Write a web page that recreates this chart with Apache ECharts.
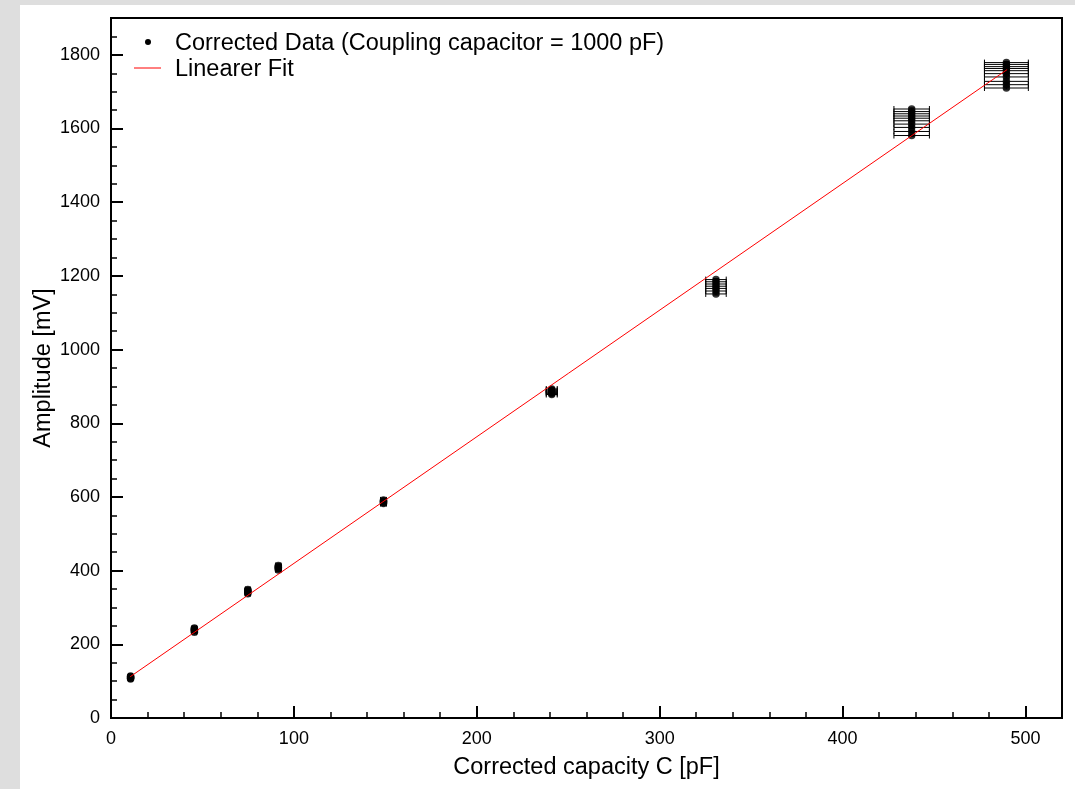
<!DOCTYPE html>
<html><head><meta charset="utf-8">
<script src="https://cdn.jsdelivr.net/npm/echarts@6/dist/echarts.min.js"></script>
<style>
html,body{margin:0;padding:0;background:#dedede;width:1075px;height:789px;overflow:hidden}
#chart{position:absolute;left:20px;top:5px;width:1055px;height:784px;background:#fff}
</style></head><body><div id="chart"></div>
<script>
// Corrected capacity C [pF] per measurement
const capX = [
  10.7,10.7,10.7,10.7,10.7,10.7,
  45.6,45.6,45.6,45.6,45.6,45.6,
  74.8,74.8,74.8,74.8,74.8,74.8,
  91.5,91.5,91.5,91.5,91.5,91.5,
  149,149,149,149,149,149,
  241,241,241,241,241,241,
  330.8,330.8,330.8,330.8,330.8,330.8,330.8,
  437.8,437.8,437.8,437.8,437.8,437.8,437.8,437.8,437.8,437.8,
  489.6,489.6,489.6,489.6,489.6,489.6,489.6,489.6,489.6,489.6
];
// Amplitude [mV]
const ampY = [
  106,108,109,111,112,114,
  233,236,238,240,242,244,
  337,340,342,345,347,349,
  402,405,407,409,411,414,
  582,584,586,588,590,592,
  878,881,884,887,890,893,
  1151,1159,1166,1172,1178,1184,1190,
  1581,1592,1603,1612,1621,1628,1634,1640,1646,1653,
  1710,1719,1728,1740,1749,1757,1763,1768,1774,1779
];
// x errors [pF]
const capErr = [
  1,1,1,1,1,1,
  1.2,1.2,1.2,1.2,1.2,1.2,
  1.3,1.3,1.3,1.3,1.3,1.3,
  1.4,1.4,1.4,1.4,1.4,1.4,
  1.6,1.6,1.6,1.6,1.6,1.6,
  3,3,3,3,3,3,
  5.6,5.6,5.6,5.6,5.6,5.6,5.6,
  9.7,9.7,9.7,9.7,9.7,9.7,9.7,9.7,9.7,9.7,
  12,12,12,12,12,12,12,12,12,12
];
// y errors [mV]
const ampErr = capX.map(() => 3);
// linear fit endpoints
const fitX = [10.5, 490];
const fitY = [112, 1760];

const xTicks = {min:0, max:520, major:100, minor:20};
const yTicks = {min:0, max:1900, major:200, minor:50};

const points = capX.map((x,i) => [x, ampY[i], capErr[i], ampErr[i]]);
const fitLine = fitX.map((x,i) => [x, fitY[i]]);

const FONT = '"Liberation Sans", Arial, Helvetica, sans-serif';
const chart = echarts.init(document.getElementById('chart'), null, {renderer:'canvas'});

const majorAxis = (t, name, isY) => ({
  type:'value', min:t.min, max:t.max, interval:t.major,
  axisLine:{show:true, lineStyle:{color:'#000', width:2}},
  axisTick:{show:true, inside:true, length:12, lineStyle:{color:'#000', width:2}},
  axisLabel:{show:true, showMaxLabel:false, margin: isY ? 11 : 12, color:'#000', fontSize:18, fontFamily:FONT,
             formatter:(v)=>String(v)},
  splitLine:{show:false},
  name:name, nameLocation:'middle', nameGap: isY ? 55 : 38, nameMoveOverlap:false,
  nameTextStyle:{color:'#000', fontSize:23.5, fontFamily:FONT}
});
const minorAxis = (t) => ({
  type:'value', min:t.min, max:t.max, interval:t.minor,
  axisLine:{show:false},
  axisTick:{show:true, inside:true, length:6, lineStyle:{color:'#000', width:1.5}},
  axisLabel:{show:false}, splitLine:{show:false}
});

const xMaj = majorAxis(xTicks, 'Corrected capacity C [pF]', false); xMaj.position='bottom';
const xMin = minorAxis(xTicks); xMin.position='bottom';
const yMaj = majorAxis(yTicks, 'Amplitude [mV]', true); yMaj.position='left';
const yMin = minorAxis(yTicks); yMin.position='left';

chart.setOption({
  animation:false,
  backgroundColor:'#fff',
  grid:{show:true, left:91, right:13, top:13, bottom:71, containLabel:false, outerBoundsMode:'none',
        borderColor:'#000', borderWidth:2, backgroundColor:'transparent'},
  xAxis:[xMaj, xMin],
  yAxis:[yMaj, yMin],
  series:[
    {
      type:'custom', name:'errors', xAxisIndex:0, yAxisIndex:0,
      encode:{x:0, y:1},
      data:points,
      renderItem:function(params, api){
        const x=api.value(0), y=api.value(1), xe=api.value(2), ye=api.value(3);
        const l=api.coord([x-xe,y]), r=api.coord([x+xe,y]);
        const b=api.coord([x,y-ye]), t=api.coord([x,y+ye]);
        const c=3;
        const st={stroke:'#000', lineWidth:1};
        return {type:'group', children:[
          {type:'line', shape:{x1:l[0],y1:l[1],x2:r[0],y2:r[1]}, style:st},
          {type:'line', shape:{x1:l[0],y1:l[1]-c,x2:l[0],y2:l[1]+c}, style:st},
          {type:'line', shape:{x1:r[0],y1:r[1]-c,x2:r[0],y2:r[1]+c}, style:st},
          {type:'line', shape:{x1:b[0],y1:b[1],x2:t[0],y2:t[1]}, style:st},
          {type:'line', shape:{x1:b[0]-c,y1:b[1],x2:b[0]+c,y2:b[1]}, style:st},
          {type:'line', shape:{x1:t[0]-c,y1:t[1],x2:t[0]+c,y2:t[1]}, style:st}
        ]};
      },
      z:2
    },
    {
      type:'scatter', name:'Corrected Data (Coupling capacitor = 1000 pF)',
      xAxisIndex:0, yAxisIndex:0,
      data:points.map(p=>[p[0],p[1]]),
      symbol:'circle', symbolSize:7.5,
      itemStyle:{color:'#000'}, z:3
    },
    {
      type:'line', name:'Linearer Fit', xAxisIndex:0, yAxisIndex:0,
      data:fitLine, symbol:'none',
      lineStyle:{color:'#ff0000', width:1}, z:4
    }
  ],
  graphic:[
    {type:'circle', shape:{cx:128, cy:37, r:3}, style:{fill:'#000'}},
    {type:'text', x:155, y:39, style:{text:'Corrected Data (Coupling capacitor = 1000 pF)', fill:'#000', font:'23.5px '+FONT, verticalAlign:'middle'}},
    {type:'line', shape:{x1:114, y1:63, x2:141, y2:63}, style:{stroke:'#ff0000', lineWidth:1}},
    {type:'text', x:155, y:65, style:{text:'Linearer Fit', fill:'#000', font:'23.5px '+FONT, verticalAlign:'middle'}}
  ]
});
</script></body></html>
